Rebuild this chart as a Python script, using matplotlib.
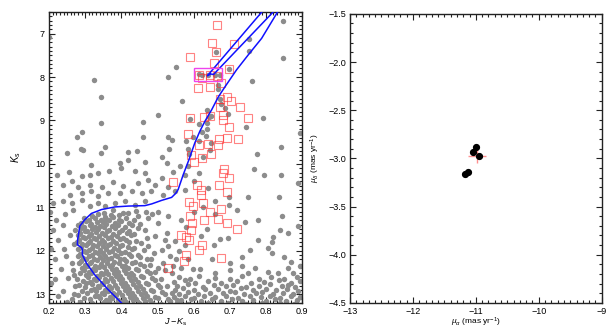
import matplotlib
matplotlib.use("Agg")
import matplotlib.pyplot as plt
from matplotlib.ticker import MultipleLocator
from matplotlib.patches import Rectangle

plt.rcParams['font.family'] = ['Liberation Sans', 'DejaVu Sans']
plt.rcParams['mathtext.fontset'] = 'custom'
plt.rcParams['mathtext.it'] = 'Liberation Sans:italic'
plt.rcParams['mathtext.rm'] = 'Liberation Sans'

# ---------------- data: CMD field stars (gray) ----------------
gray_upper = [
    (0.200, 7.07), (0.551, 7.76), (0.325, 8.06), (0.530, 7.99), (0.343, 8.46), (0.502, 8.87),
    (0.343, 9.06), (0.460, 9.04), (0.292, 9.27), (0.278, 9.37), (0.460, 9.37), (0.528, 9.37),
    (0.541, 9.44), (0.287, 9.65), (0.293, 9.67), (0.354, 9.60), (0.532, 9.66), (0.249, 9.75),
    (0.343, 9.75), (0.418, 9.73), (0.442, 9.70), (0.511, 9.84), (0.419, 9.90),
    (0.846, 6.70), (0.753, 7.13), (0.662, 7.43), (0.752, 7.40), (0.847, 7.56), (0.698, 7.82),
    (0.615, 7.93), (0.622, 7.95), (0.640, 7.95), (0.659, 7.95), (0.673, 7.96), (0.762, 8.08),
    (0.668, 8.18), (0.666, 8.27), (0.568, 8.55), (0.673, 8.51), (0.677, 8.62), (0.687, 8.72),
    (0.638, 8.77), (0.694, 8.85), (0.649, 8.89), (0.591, 8.96), (0.642, 8.92), (0.793, 8.94),
    (0.638, 9.06), (0.616, 9.07), (0.745, 9.14), (0.638, 9.20), (0.624, 9.27), (0.599, 9.37),
    (0.634, 9.35), (0.893, 9.29), (0.578, 9.47), (0.615, 9.48), (0.648, 9.52), (0.585, 9.66),
    (0.645, 9.67), (0.625, 9.83), (0.842, 9.62), (0.776, 9.77), (0.588, 9.77),
]
gray_band = [
    (0.317, 10.02), (0.396, 9.99), (0.465, 9.96), (0.525, 9.99), (0.255, 10.19), (0.292, 10.28),
    (0.313, 10.25), (0.336, 10.21), (0.366, 10.17), (0.400, 10.09), (0.437, 10.17), (0.465, 10.21),
    (0.511, 10.32), (0.544, 10.19), (0.239, 10.48), (0.262, 10.40), (0.280, 10.52), (0.313, 10.48),
    (0.345, 10.52), (0.377, 10.42), (0.405, 10.50), (0.447, 10.44), (0.474, 10.36), (0.493, 10.48),
    (0.530, 10.52), (0.257, 10.71), (0.290, 10.67), (0.317, 10.63), (0.336, 10.74), (0.363, 10.67),
    (0.396, 10.67), (0.428, 10.63), (0.456, 10.67), (0.483, 10.63), (0.516, 10.71), (0.211, 10.90),
    (0.239, 10.86), (0.262, 10.90), (0.290, 10.82), (0.313, 10.97), (0.336, 10.90), (0.354, 10.97),
    (0.382, 10.90), (0.410, 10.86), (0.437, 10.94), (0.465, 10.86), (0.222, 10.25), (0.548, 10.62),
    (0.768, 10.11), (0.795, 10.26), (0.842, 10.25), (0.615, 10.22), (0.585, 10.05), (0.576, 10.26),
    (0.562, 10.04), (0.698, 10.76), (0.698, 10.95), (0.749, 10.77), (0.837, 10.77), (0.600, 10.40),
    (0.640, 10.55), (0.660, 10.85), (0.625, 11.00), (0.575, 10.60), (0.890, 10.45),
]
gray_left = [
    (0.211, 11.51), (0.220, 11.28), (0.239, 11.40), (0.225, 11.74), (0.257, 11.63), (0.216, 12.20),
    (0.248, 12.12), (0.234, 12.43), (0.262, 12.28), (0.216, 12.66), (0.253, 12.62), (0.239, 12.93),
    (0.271, 12.81), (0.225, 13.04), (0.262, 13.12), (0.203, 11.10), (0.245, 11.15), (0.265, 11.05),
    (0.268, 11.85), (0.205, 11.95), (0.240, 11.95), (0.265, 12.45), (0.205, 12.75), (0.268, 13.00),
    (0.250, 13.18), (0.278, 12.64), (0.293, 12.70), (0.284, 12.78), (0.300, 12.84), (0.290, 12.92),
    (0.306, 12.97), (0.280, 13.02), (0.296, 13.08), (0.312, 13.12), (0.285, 13.17), (0.320, 13.19),
    (0.270, 12.55), (0.286, 12.52), (0.303, 12.75), (0.315, 12.90), (0.326, 13.03),
]
gray_blob = [
    (0.352, 11.12), (0.378, 11.07), (0.405, 11.13), (0.441, 11.09), (0.468, 11.11),
    (0.318, 11.20), (0.336, 11.15), (0.355, 11.22), (0.371, 11.17), (0.392, 11.18), (0.418, 11.14), (0.447, 11.21), (0.485, 11.16),
    (0.296, 11.24), (0.311, 11.29), (0.327, 11.25), (0.343, 11.30), (0.358, 11.26), (0.376, 11.23), (0.394, 11.28), (0.413, 11.25), (0.436, 11.30),
    (0.288, 11.36), (0.302, 11.31), (0.316, 11.38), (0.333, 11.33), (0.349, 11.34), (0.365, 11.30), (0.381, 11.37), (0.399, 11.32), (0.421, 11.35), (0.452, 11.38),
    (0.281, 11.40), (0.297, 11.45), (0.313, 11.41), (0.326, 11.46), (0.342, 11.42), (0.357, 11.39), (0.374, 11.44), (0.390, 11.41), (0.411, 11.46), (0.430, 11.40),
    (0.272, 11.52), (0.289, 11.47), (0.305, 11.54), (0.320, 11.49), (0.336, 11.50), (0.352, 11.46), (0.366, 11.53), (0.383, 11.48), (0.402, 11.51), (0.420, 11.54), (0.445, 11.47),
    (0.285, 11.60), (0.300, 11.55), (0.316, 11.62), (0.331, 11.57), (0.345, 11.58), (0.361, 11.54), (0.378, 11.61), (0.394, 11.56), (0.416, 11.59), (0.436, 11.62),
    (0.279, 11.64), (0.294, 11.69), (0.309, 11.65), (0.323, 11.70), (0.338, 11.66), (0.355, 11.63), (0.372, 11.68), (0.388, 11.65), (0.405, 11.70), (0.427, 11.64),
    (0.283, 11.76), (0.298, 11.71), (0.314, 11.78), (0.330, 11.73), (0.346, 11.74), (0.362, 11.70), (0.377, 11.77), (0.395, 11.72), (0.414, 11.75), (0.440, 11.78),
    (0.276, 11.80), (0.292, 11.85), (0.307, 11.81), (0.321, 11.86), (0.337, 11.82), (0.352, 11.79), (0.368, 11.84), (0.384, 11.81), (0.401, 11.86), (0.422, 11.80), (0.455, 11.83),
    (0.287, 11.92), (0.302, 11.87), (0.318, 11.94), (0.333, 11.89), (0.349, 11.90), (0.364, 11.86), (0.380, 11.93), (0.397, 11.88), (0.418, 11.91), (0.434, 11.94),
    (0.281, 11.96), (0.297, 12.01), (0.311, 11.97), (0.326, 12.02), (0.342, 11.98), (0.358, 11.95), (0.373, 12.00), (0.391, 11.97), (0.409, 12.02), (0.428, 11.96), (0.462, 11.99),
    (0.286, 12.08), (0.303, 12.03), (0.319, 12.10), (0.334, 12.05), (0.350, 12.06), (0.366, 12.02), (0.383, 12.09), (0.400, 12.04), (0.420, 12.07), (0.445, 12.10),
    (0.279, 12.12), (0.294, 12.17), (0.309, 12.13), (0.325, 12.18), (0.341, 12.14), (0.356, 12.11), (0.372, 12.16), (0.389, 12.13), (0.407, 12.18), (0.426, 12.12), (0.452, 12.15),
    (0.288, 12.24), (0.303, 12.19), (0.317, 12.26), (0.333, 12.21), (0.348, 12.22), (0.363, 12.18), (0.380, 12.25), (0.396, 12.20), (0.414, 12.23), (0.437, 12.26), (0.470, 12.19),
    (0.282, 12.28), (0.298, 12.33), (0.312, 12.29), (0.327, 12.34), (0.343, 12.30), (0.359, 12.27), (0.375, 12.32), (0.392, 12.29), (0.410, 12.34), (0.429, 12.28), (0.451, 12.31), (0.478, 12.33),
    (0.290, 12.40), (0.306, 12.35), (0.321, 12.42), (0.337, 12.37), (0.352, 12.38), (0.368, 12.34), (0.385, 12.41), (0.402, 12.36), (0.419, 12.39), (0.440, 12.42), (0.463, 12.35),
    (0.296, 12.44), (0.311, 12.49), (0.327, 12.45), (0.343, 12.50), (0.358, 12.46), (0.374, 12.43), (0.391, 12.48), (0.408, 12.45), (0.426, 12.50), (0.447, 12.44), (0.470, 12.47), (0.492, 12.49),
    (0.301, 12.56), (0.317, 12.51), (0.332, 12.58), (0.348, 12.53), (0.363, 12.54), (0.380, 12.50), (0.397, 12.57), (0.414, 12.52), (0.433, 12.55), (0.455, 12.58), (0.480, 12.51),
    (0.308, 12.60), (0.323, 12.65), (0.339, 12.61), (0.354, 12.66), (0.370, 12.62), (0.386, 12.59), (0.403, 12.64), (0.420, 12.61), (0.438, 12.66), (0.459, 12.60), (0.485, 12.63), (0.510, 12.65),
    (0.313, 12.72), (0.329, 12.67), (0.345, 12.74), (0.361, 12.69), (0.377, 12.70), (0.393, 12.66), (0.410, 12.73), (0.427, 12.68), (0.446, 12.71), (0.468, 12.74), (0.494, 12.67),
    (0.318, 12.76), (0.334, 12.81), (0.350, 12.77), (0.366, 12.82), (0.382, 12.78), (0.399, 12.75), (0.416, 12.80), (0.433, 12.77), (0.452, 12.82), (0.474, 12.76), (0.500, 12.79), (0.525, 12.81),
    (0.323, 12.88), (0.339, 12.83), (0.356, 12.90), (0.372, 12.85), (0.388, 12.86), (0.405, 12.82), (0.422, 12.89), (0.440, 12.84), (0.459, 12.87), (0.481, 12.90), (0.507, 12.83),
    (0.330, 12.92), (0.346, 12.97), (0.362, 12.93), (0.378, 12.98), (0.394, 12.94), (0.411, 12.91), (0.428, 12.96), (0.446, 12.93), (0.465, 12.98), (0.487, 12.92), (0.512, 12.95), (0.540, 12.97),
    (0.336, 13.04), (0.352, 12.99), (0.368, 13.06), (0.384, 13.01), (0.401, 13.02), (0.418, 12.98), (0.435, 13.05), (0.453, 13.00), (0.472, 13.03), (0.494, 13.06), (0.520, 12.99),
    (0.342, 13.08), (0.358, 13.13), (0.375, 13.09), (0.391, 13.14), (0.407, 13.10), (0.424, 13.07), (0.441, 13.12), (0.459, 13.09), (0.479, 13.14), (0.501, 13.08), (0.528, 13.11), (0.555, 13.13),
    (0.348, 13.20), (0.365, 13.15), (0.381, 13.22), (0.398, 13.17), (0.414, 13.18), (0.431, 13.14), (0.448, 13.21), (0.466, 13.16), (0.486, 13.19), (0.509, 13.22), (0.535, 13.15),
]
gray_mid = [
    (0.474, 11.24), (0.502, 11.36), (0.530, 11.21), (0.465, 11.51), (0.493, 11.66), (0.525, 11.59),
    (0.548, 11.78), (0.474, 11.89), (0.511, 11.97), (0.534, 12.12), (0.483, 12.20), (0.516, 12.28),
    (0.544, 12.35), (0.500, 11.10), (0.520, 11.75), (0.490, 12.05), (0.470, 11.70), (0.530, 11.90),
    (0.550, 12.20), (0.500, 12.40),
    (0.565, 11.28), (0.779, 11.28), (0.742, 11.34), (0.862, 11.59), (0.888, 11.43), (0.839, 11.51),
    (0.638, 11.50), (0.673, 11.73), (0.696, 11.70), (0.777, 11.76), (0.819, 11.68), (0.818, 11.80),
    (0.576, 11.86), (0.560, 12.01), (0.657, 11.86), (0.756, 11.97), (0.733, 12.14), (0.807, 11.93),
    (0.816, 12.05), (0.851, 12.14), (0.650, 12.20), (0.700, 12.28), (0.585, 12.20), (0.566, 12.39),
    (0.599, 12.43), (0.617, 12.43), (0.733, 12.35), (0.770, 12.39), (0.807, 12.49), (0.834, 12.52),
    (0.862, 12.39), (0.876, 12.51), (0.600, 11.10), (0.660, 11.15), (0.720, 11.05), (0.845, 11.20),
    (0.870, 12.25), (0.893, 12.35), (0.620, 11.65), (0.580, 11.45), (0.700, 12.45), (0.660, 12.50),
    (0.750, 12.50), (0.540, 12.50), (0.520, 12.45),
]
gray_lowright = [
    (0.560, 12.60), (0.590, 12.65), (0.615, 12.58), (0.660, 12.63), (0.700, 12.66), (0.735, 12.59), (0.780, 12.64), (0.815, 12.61), (0.850, 12.66), (0.885, 12.60),
    (0.545, 12.72), (0.575, 12.68), (0.605, 12.74), (0.640, 12.70), (0.675, 12.73), (0.720, 12.69), (0.760, 12.74), (0.795, 12.71), (0.835, 12.68), (0.870, 12.73), (0.895, 12.70),
    (0.555, 12.81), (0.585, 12.77), (0.625, 12.83), (0.655, 12.79), (0.690, 12.82), (0.710, 12.78), (0.745, 12.83), (0.780, 12.80), (0.810, 12.77), (0.845, 12.82), (0.862, 12.78), (0.880, 12.84),
    (0.548, 12.90), (0.570, 12.86), (0.600, 12.91), (0.630, 12.87), (0.668, 12.89), (0.700, 12.92), (0.730, 12.86), (0.765, 12.90), (0.800, 12.87), (0.828, 12.91), (0.857, 12.88), (0.890, 12.92),
    (0.560, 12.99), (0.585, 12.95), (0.612, 13.00), (0.645, 12.96), (0.680, 12.98), (0.715, 12.95), (0.740, 13.00), (0.772, 12.97), (0.790, 12.94), (0.820, 12.99), (0.848, 12.96), (0.875, 13.00),
    (0.545, 13.06), (0.575, 13.03), (0.600, 13.08), (0.628, 13.04), (0.660, 13.07), (0.690, 13.03), (0.722, 13.08), (0.755, 13.05), (0.785, 13.07), (0.810, 13.03), (0.838, 13.08), (0.868, 13.05), (0.893, 13.07),
    (0.565, 13.14), (0.592, 13.11), (0.620, 13.16), (0.650, 13.12), (0.675, 13.15), (0.705, 13.11), (0.735, 13.16), (0.765, 13.13), (0.800, 13.15), (0.825, 13.11), (0.855, 13.16), (0.885, 13.13),
    (0.555, 13.20), (0.585, 13.22), (0.640, 13.21), (0.695, 13.20), (0.745, 13.22), (0.790, 13.20), (0.840, 13.21), (0.878, 13.22),
]

# ---------------- data: member candidates (red squares) ----------------
red_sq = [
    (0.665, 6.81), (0.650, 7.22), (0.712, 7.24), (0.662, 7.43), (0.589, 7.53), (0.655, 7.68),
    (0.699, 7.82), (0.616, 7.95), (0.622, 8.02), (0.644, 7.95), (0.664, 7.97), (0.611, 8.25),
    (0.646, 8.24), (0.675, 8.14), (0.674, 8.51), (0.692, 8.45), (0.704, 8.54), (0.729, 8.70),
    (0.674, 8.68), (0.590, 8.94), (0.629, 8.93), (0.646, 8.89), (0.681, 8.87), (0.750, 8.95),
    (0.681, 9.00), (0.699, 9.14), (0.584, 9.30), (0.692, 9.40), (0.669, 9.42), (0.722, 9.43),
    (0.616, 9.57), (0.639, 9.53), (0.667, 9.57), (0.593, 9.79), (0.648, 9.78), (0.622, 9.87),
    (0.602, 9.96), (0.684, 10.11), (0.682, 10.21), (0.698, 10.32), (0.542, 10.42), (0.609, 10.49),
    (0.670, 10.49), (0.619, 10.59), (0.692, 10.64), (0.619, 10.72), (0.587, 10.88), (0.626, 10.91),
    (0.599, 10.96), (0.646, 11.11), (0.676, 11.03), (0.590, 11.21), (0.629, 11.30), (0.666, 11.26),
    (0.691, 11.36), (0.596, 11.37), (0.592, 11.51), (0.721, 11.50), (0.565, 11.63), (0.580, 11.68),
    (0.588, 11.76), (0.622, 11.87), (0.615, 11.99), (0.579, 12.09), (0.677, 12.16), (0.574, 12.24),
    (0.529, 12.39),
]

# ---------------- data: isochrone ----------------
iso_main = [
    (0.405, 13.24), (0.363, 12.89), (0.326, 12.55), (0.303, 12.28), (0.292, 12.09), (0.292, 11.97),
    (0.290, 11.93), (0.278, 11.86), (0.279, 11.74), (0.285, 11.43), (0.299, 11.28), (0.317, 11.14),
    (0.345, 11.05), (0.382, 10.99), (0.419, 10.97), (0.465, 10.96), (0.484, 10.92), (0.511, 10.84),
    (0.539, 10.77), (0.550, 10.68), (0.557, 10.59), (0.571, 10.25), (0.587, 9.90), (0.603, 9.52),
    (0.617, 9.25), (0.631, 9.02), (0.650, 8.75), (0.668, 8.46), (0.687, 8.22), (0.719, 7.83),
    (0.751, 7.49), (0.788, 7.11), (0.836, 6.45),
]
iso_hb = [
    (0.794, 6.45), (0.638, 7.97), (0.647, 7.93), (0.655, 7.94), (0.826, 6.45),
]
clump_box = (0.600, 7.79, 0.678, 8.10)  # x0, y0, x1, y1

# ---------------- data: proper motions ----------------
pm_ra = [-11.00, -11.04, -10.95, -11.12, -11.17]
pm_dec = [-2.88, -2.93, -2.98, -3.14, -3.16]
pm_mean = (-10.98, -2.97)
pm_err = (0.14, 0.08)

# ---------------- figure ----------------
fig = plt.figure(figsize=(6.14, 3.30), dpi=100)
ax1 = fig.add_axes([0.080, 0.082, 0.412, 0.882])
ax2 = fig.add_axes([0.570, 0.082, 0.410, 0.876])

gray_all = gray_upper + gray_band + gray_left + gray_blob + gray_mid + gray_lowright
gx, gy = zip(*gray_all)
ax1.plot(gx, gy, 'o', color='#8c8c8c', ms=3.9, mec='none', zorder=2)

rx, ry = zip(*red_sq)
ax1.plot(rx, ry, 's', mfc='none', mec='#ff3030', alpha=0.6, ms=5.2, mew=0.8, zorder=3)

mx, my = zip(*iso_main)
ax1.plot(mx, my, '-', color='#1010ff', lw=1.1, zorder=4)
hx, hy = zip(*iso_hb)
ax1.plot(hx, hy, '-', color='#1010ff', lw=1.1, zorder=4)

x0, y0, x1, y1 = clump_box
ax1.add_patch(Rectangle((x0, y0), x1 - x0, y1 - y0, fill=False, ec='#ee44ee', lw=1.0, zorder=5))

ax1.set_xlim(0.2, 0.9)
ax1.set_ylim(13.2, 6.5)
ax1.xaxis.set_major_locator(MultipleLocator(0.1))
ax1.xaxis.set_minor_locator(MultipleLocator(0.01))
ax1.yaxis.set_major_locator(MultipleLocator(1))
ax1.yaxis.set_minor_locator(MultipleLocator(0.1))
ax1.set_xlabel(r'$J-K_{\rm s}$', fontsize=6.5)
ax1.set_ylabel(r'$K_{\rm s}$', fontsize=7)
ax1.xaxis.set_label_coords(0.5, -0.045)
ax1.yaxis.set_label_coords(-0.105, 0.5)

ax2.errorbar([pm_mean[0]], [pm_mean[1]], xerr=[pm_err[0]], yerr=[pm_err[1]], fmt='none',
             ecolor='#ff9090', elinewidth=1.0, capsize=0, zorder=2)
ax2.plot(pm_ra, pm_dec, 'o', color='black', ms=4.2, zorder=3)
ax2.set_xlim(-13, -9)
ax2.set_ylim(-4.5, -1.5)
ax2.xaxis.set_major_locator(MultipleLocator(1))
ax2.xaxis.set_minor_locator(MultipleLocator(0.1))
ax2.yaxis.set_major_locator(MultipleLocator(0.5))
ax2.yaxis.set_minor_locator(MultipleLocator(0.1))
ax2.set_xlabel(r'$\mu_{\alpha}$ (mas yr$^{-1}$)', fontsize=6)
ax2.set_ylabel(r'$\mu_{\delta}$ (mas yr$^{-1}$)', fontsize=6)
ax2.xaxis.set_label_coords(0.5, -0.045)
ax2.yaxis.set_label_coords(-0.11, 0.5)

for ax in (ax1, ax2):
    ax.tick_params(which='both', direction='in', top=True, right=True, labelsize=6.5,
                   color='#222222', width=0.8)
    ax.tick_params(which='major', length=4, pad=3)
    ax.tick_params(which='minor', length=2)
    for s in ax.spines.values():
        s.set_linewidth(1.0)
        s.set_color('#222222')

fig.savefig('out.png', dpi=100)
